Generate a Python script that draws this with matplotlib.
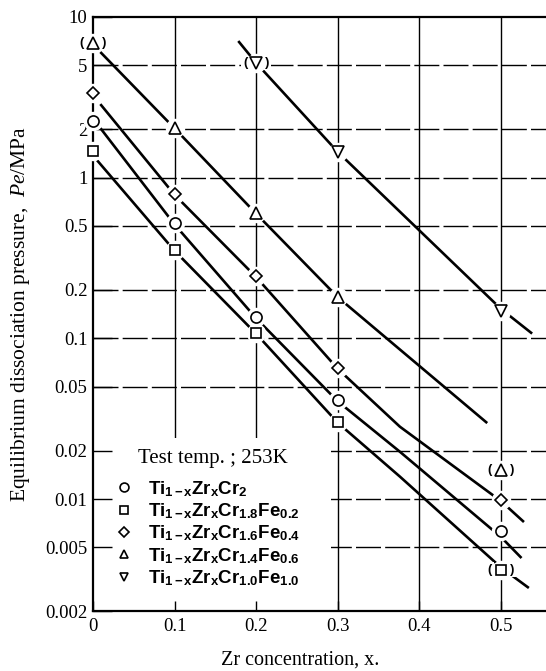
import matplotlib
matplotlib.use("Agg")
import matplotlib.pyplot as plt
from matplotlib.patches import Rectangle

plt.rcParams['mathtext.fontset'] = 'custom'
plt.rcParams['mathtext.rm'] = 'Liberation Sans:bold'
plt.rcParams['mathtext.bf'] = 'Liberation Sans:bold'
plt.rcParams['mathtext.it'] = 'Liberation Serif:italic'

# ---- data ----
x_conc = [0.0, 0.1, 0.2, 0.3, 0.5]
cr2_pe = [2.23, 0.519, 0.1355, 0.0413, 0.00635]
cr18fe02_pe = [1.47, 0.353, 0.1077, 0.0302, 0.00364]
cr16fe04_pe = [3.33, 0.79, 0.243, 0.0653, 0.0099]
cr14fe06_pe = [6.9, 2.04, 0.60, 0.181, 0.0151]
cr10fe10_x = [0.2, 0.3, 0.5]
cr10fe10_pe = [5.15, 1.44, 0.148]

# bracketed (uncertain) points: (x, Pe)
bracketed_x = [0.0, 0.2, 0.5, 0.5]
bracketed_pe = [6.9, 5.15, 0.0151, 0.00364]

# hand-drawn trend curves
cr2_curve_x = [0.009, 0.1, 0.2, 0.3, 0.376, 0.5, 0.525]
cr2_curve_pe = [2.03, 0.51, 0.133, 0.0405, 0.0197, 0.0058, 0.0043]
cr18fe02_curve_x = [0.005, 0.1, 0.2, 0.3, 0.376, 0.5, 0.534]
cr18fe02_curve_pe = [1.28, 0.35, 0.1065, 0.0298, 0.0138, 0.00375, 0.0028]
cr16fe04_curve_x = [0.009, 0.1, 0.2, 0.3, 0.376, 0.5, 0.528]
cr16fe04_curve_pe = [2.86, 0.78, 0.24, 0.0645, 0.0282, 0.0097, 0.0072]
cr14fe06_curve_x = [0.009, 0.1, 0.2, 0.3, 0.483]
cr14fe06_curve_pe = [6.03, 2.02, 0.595, 0.180, 0.0297]
cr10fe10_curve_x = [0.178, 0.2, 0.3, 0.5, 0.538]
cr10fe10_curve_pe = [7.06, 5.15, 1.44, 0.152, 0.107]

labels = [
    r"Ti$_{\rm 1-x}$Zr$_{\rm x}$Cr$_{\rm 2}$",
    r"Ti$_{\rm 1-x}$Zr$_{\rm x}$Cr$_{\rm 1.8}$Fe$_{\rm 0.2}$",
    r"Ti$_{\rm 1-x}$Zr$_{\rm x}$Cr$_{\rm 1.6}$Fe$_{\rm 0.4}$",
    r"Ti$_{\rm 1-x}$Zr$_{\rm x}$Cr$_{\rm 1.4}$Fe$_{\rm 0.6}$",
    r"Ti$_{\rm 1-x}$Zr$_{\rm x}$Cr$_{\rm 1.0}$Fe$_{\rm 1.0}$",
]
markers = ['o', 's', 'D', '^', 'v']
ytick_vals = [10, 5, 2, 1, 0.5, 0.2, 0.1, 0.05, 0.02, 0.01, 0.005, 0.002]
ytick_labels = ['10', '5', '2', '1', '0.5', '0.2', '0.1', '0.05', '0.02', '0.01', '0.005', '0.002']
xtick_vals = [0, 0.1, 0.2, 0.3, 0.4, 0.5]
xtick_labels = ['0', '0.1', '0.2', '0.3', '0.4', '0.5']

fig = plt.figure(figsize=(5.46, 6.71), dpi=100)
ax = fig.add_axes([0.1703, 0.0887, 1 - 0.1703, 0.9751 - 0.0887])
ax.set_yscale('log')
ax.set_xlim(0, 0.555)
ax.set_ylim(0.002, 10)

# grid (drawn manually)
for yv in ytick_vals[1:-1]:
    ax.axhline(yv, color='black', lw=1.0, ls=(0, (18, 3)), zorder=1)
for xv in xtick_vals[1:]:
    ax.axvline(xv, color='black', lw=1.0, zorder=1)

# white area under the legend
ax.add_patch(Rectangle((0, 0.002), 0.291, 0.024 - 0.002, facecolor='white',
                       edgecolor='none', zorder=1.5))

series = [
    (x_conc, cr2_pe, cr2_curve_x, cr2_curve_pe),
    (x_conc, cr18fe02_pe, cr18fe02_curve_x, cr18fe02_curve_pe),
    (x_conc, cr16fe04_pe, cr16fe04_curve_x, cr16fe04_curve_pe),
    (x_conc, cr14fe06_pe, cr14fe06_curve_x, cr14fe06_curve_pe),
    (cr10fe10_x, cr10fe10_pe, cr10fe10_curve_x, cr10fe10_curve_pe),
]
msizes = {'o': 8, 's': 7, 'D': 6.5, '^': 8, 'v': 8}
handles = []
for (xs, ys, cx, cy), m, lab in zip(series, markers, labels):
    ax.plot(cx, cy, color='black', lw=1.9, zorder=3, solid_capstyle='butt')
    ax.plot(xs, ys, ls='none', marker='o', ms=13, mfc='white', mec='white',
            zorder=4, clip_on=False)
    h, = ax.plot(xs, ys, ls='none', marker=m, ms=msizes[m], mfc='white',
                 mec='black', mew=1.2, zorder=5, clip_on=False, label=lab)
    handles.append(h)

for bx, by in zip(bracketed_x, bracketed_pe):
    for txt, off in (('(', -8), (')', 8)):
        ax.annotate(txt, xy=(bx, by), xytext=(off, 0), textcoords='offset points',
                    ha='center', va='center', fontsize=9.5, fontweight='bold',
                    family='Liberation Sans',
                    bbox=dict(fc='white', ec='none', pad=1.0), zorder=4.5,
                    annotation_clip=False)

# axes styling
ax.set_yticks(ytick_vals)
ax.set_yticklabels(ytick_labels)
ax.minorticks_off()
ax.set_xticks(xtick_vals)
ax.set_xticklabels(xtick_labels)
for lab in ax.get_xticklabels() + ax.get_yticklabels():
    lab.set_family('Liberation Serif')
    lab.set_fontsize(13.5)
ax.tick_params(axis='y', direction='in', length=14, width=1.0, pad=4)
ax.tick_params(axis='x', direction='in', length=7, width=1.0, pad=5)
for s in ('left', 'top', 'bottom'):
    ax.spines[s].set_linewidth(1.6)
ax.spines['right'].set_visible(False)

ax.set_ylabel(r"Equilibrium dissociation pressure,  $Pe$/MPa",
              family='Liberation Serif', fontsize=15.5)
ax.yaxis.set_label_coords(-0.134, 0.5)
ax.set_xlabel("Zr concentration, x.", family='Liberation Serif', fontsize=14.5)
ax.xaxis.set_label_coords(0.457, -0.066)

leg = ax.legend(handles, labels, loc='lower left',
                bbox_to_anchor=(0.035, 0.03), frameon=False,
                prop=dict(family='Liberation Sans', weight='bold', size=13.5),
                markerscale=0.8, handlelength=1.0, handletextpad=0.8,
                labelspacing=0.14, borderaxespad=0.0, borderpad=0.3)
leg.set_zorder(6)
ax.text(0.265, 0.258, "Test temp. ; 253K", transform=ax.transAxes,
        ha='center', va='center', family='Liberation Serif', fontsize=15,
        zorder=6)

fig.savefig('out.png', dpi=100)
